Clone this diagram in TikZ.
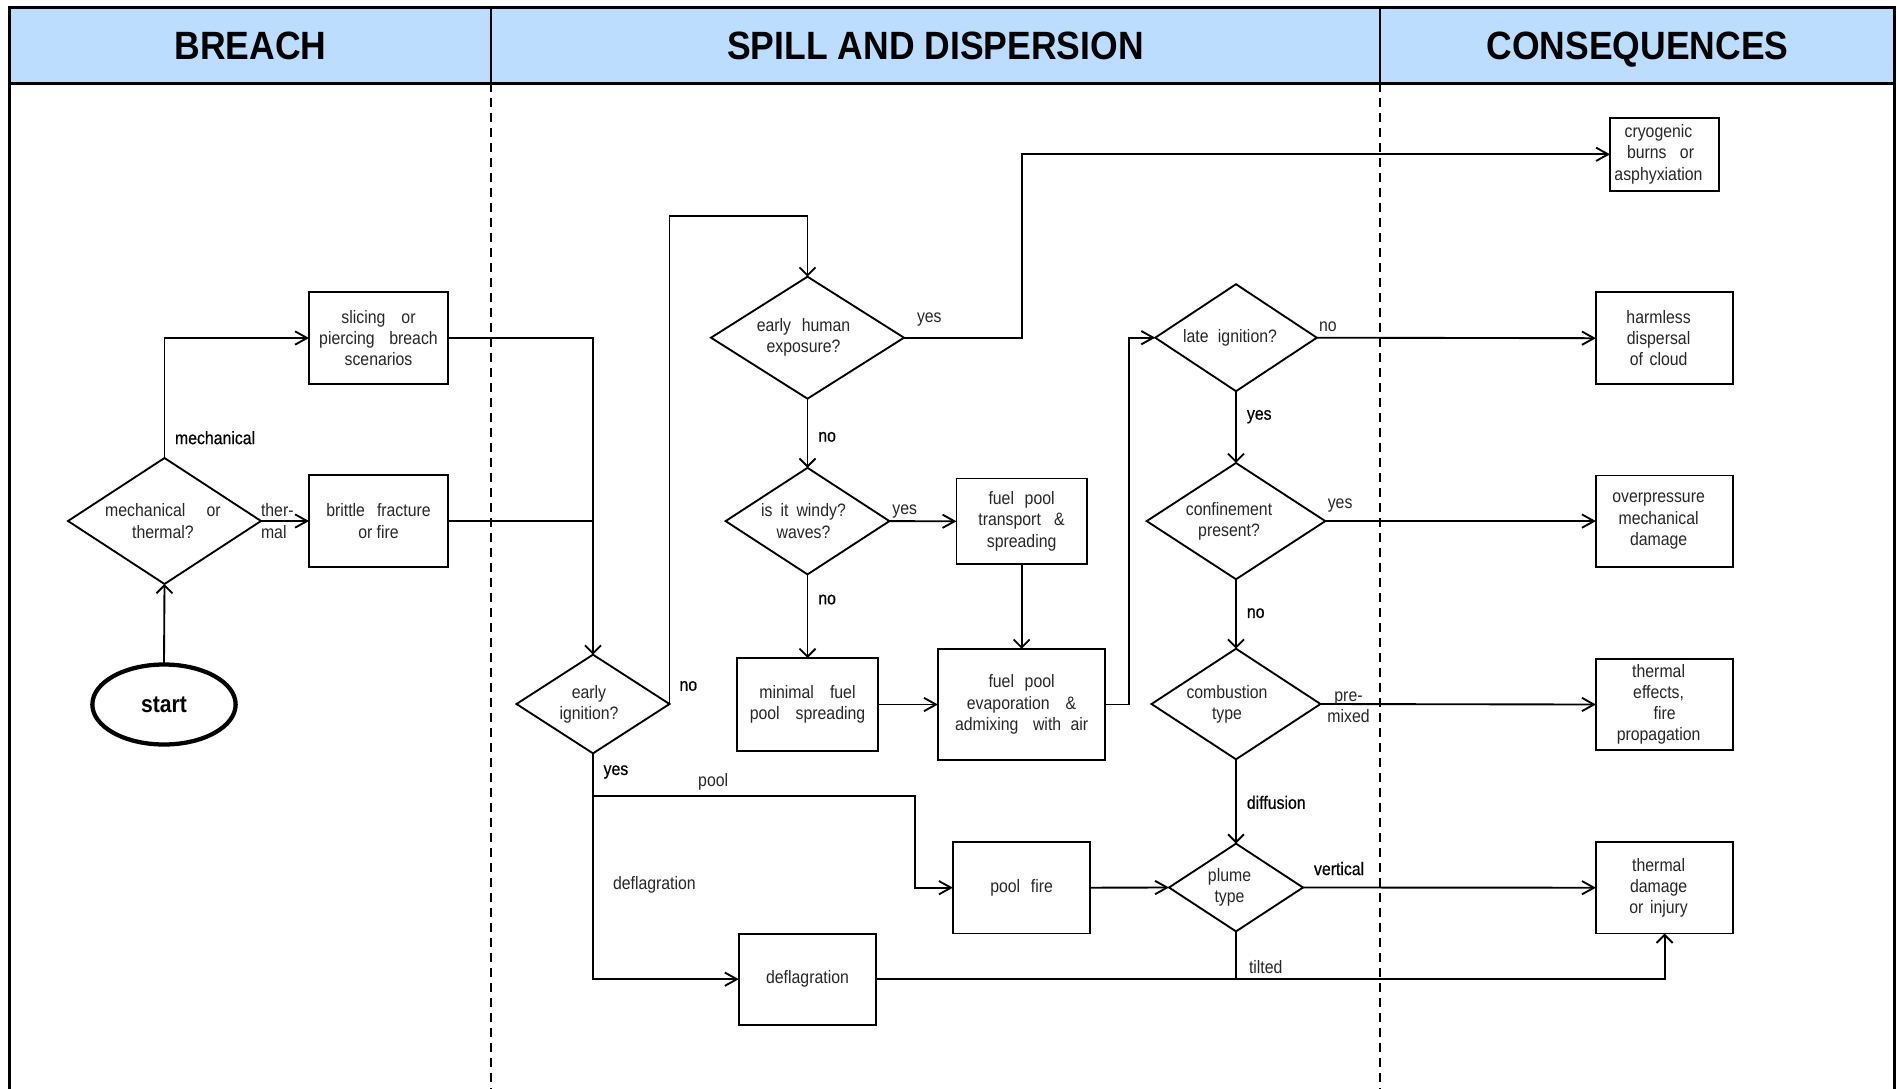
\documentclass[tikz,border=0pt]{standalone}
\usepackage{fontspec}
\setmainfont{Liberation Sans}[FakeStretch=0.88]
\newfontfamily\headfont{Liberation Sans}[FakeStretch=0.9]
\newfontfamily\strongfont{Liberation Sans}[FakeStretch=0.88, FakeBold=0.6]
\usetikzlibrary{shapes.geometric, arrows.meta}
\definecolor{hdr}{HTML}{BCDDFD}
\definecolor{ink}{HTML}{262626}
\newcommand{\wsp}[1]{\hspace{#1pt}}
\newcommand{\rk}{\kern9pt}
\begin{document}
\begin{tikzpicture}[x=0.75pt, y=-0.75pt,
  every node/.style={inner sep=0pt, outer sep=0pt},
  txt/.style={font=\fontsize{13.5}{15.9}\selectfont, align=center, text=ink},
  lbl/.style={font=\fontsize{13.5}{15.9}\selectfont, anchor=west, align=left, text=ink},
  slbl/.style={font=\strongfont\fontsize{13.5}{15.9}\selectfont, anchor=west, align=left, text=black},
  hdrtxt/.style={font=\headfont\bfseries\fontsize{29.6}{30}\selectfont, text depth=0pt},
  box/.style args={#1/#2}{draw, rectangle, line width=1.4pt, minimum width=#1*0.75pt, minimum height=#2*0.75pt, txt},
  dia/.style args={#1/#2}{draw, diamond, line width=1.4pt, minimum width=#1*0.75pt, minimum height=#2*0.75pt},
  conn/.style={line width=1.4pt},
  ah/.style={conn, -{Straight Barb[length=9pt, width=10pt]}},
  av/.style={conn, -{Straight Barb[length=6pt, width=12pt]}},
  frame/.style={line width=2pt},
  lane/.style={line width=1.5pt, dash pattern=on 6.75pt off 4.5pt},
]
\useasboundingbox (0,0) rectangle (1897,1088);
\clip (0,0) rectangle (1897,1088);

% header and frame
\fill[hdr] (9.8,7.3) rectangle (1894.8,83.3);
\draw[lane] (491,83.3) -- (491,1100);
\draw[lane] (1380,83.3) -- (1380,1100);
\draw[frame] (9.8,1100) -- (9.8,7.3) -- (1894.8,7.3) -- (1894.8,1100);
\draw[frame] (9.8,83.3) -- (1894.8,83.3);
\draw[frame] (491,7.3) -- (491,83.3);
\draw[frame] (1380,7.3) -- (1380,83.3);
\node[hdrtxt] (h1) at (250.4,46) {BREACH};
\node[hdrtxt] (h2) at (935.5,46) {SPILL AND DISPERSION};
\node[hdrtxt] (h3) at (1637.4,46) {CONSEQUENCES};

% nodes
\node[draw, ellipse, line width=3.2pt, minimum width=143.3*0.75pt, minimum height=80*0.75pt,
      font=\bfseries\fontsize{18}{20}\selectfont] (start) at (164,704.5) {start};
\node[dia=193/126] (mt) at (164.5,521) {};
\node[txt] (mtt) at (163,521) {mechanical\wsp{16}or\\thermal?};
\node[box=139/92.6] (slice) at (378.5,338) {slicing\wsp{12}or\\piercing\wsp{11}breach\\scenarios};
\node[box=139/91.7] (brit) at (378.5,521) {brittle\wsp{9}fracture\\or fire};
\node[dia=153/98.7] (ei) at (593,704) {};
\node[txt] (eit) at (589,704) {early\\ignition?};
\node[dia=193/122] (ehe) at (807.5,337.7) {};
\node[txt] (ehet) at (803.5,337.7) {early\wsp{8}human\\exposure?};
\node[dia=163.8/106.6] (windy) at (807.5,521.1) {};
\node[txt] (windyt) at (803.5,521.1) {is\wsp{6}it\wsp{6}windy?\\waves?};
\node[box=130.3/85.6] (trans) at (1021.6,521.3) {fuel\wsp{8}pool\\transport\wsp{10}\&\\spreading};
\node[box=140.7/93] (minf) at (807.5,704.5) {minimal\wsp{12}fuel\\pool\wsp{12}spreading};
\node[box=167.4/111.4] (evap) at (1021.6,704.5) {fuel\wsp{8}pool\\evaporation\wsp{12}\&\\admixing\wsp{11}with\wsp{7}air};
\node[box=137.5/91.7] (pfire) at (1021.6,887.7) {pool\wsp{8}fire};
\node[box=137.5/91.2] (defl) at (807.5,979.2) {deflagration};
\node[dia=161.6/107] (late) at (1236,337.7) {};
\node[txt] (latet) at (1230,337.7) {late\wsp{7}ignition?};
\node[dia=178.6/116.3] (conf) at (1236,521.1) {};
\node[txt] (conft) at (1229,521.1) {confinement\\present?};
\node[dia=169/110.6] (comb) at (1236,704) {};
\node[txt] (combt) at (1227,704) {combustion\\type};
\node[dia=134/87.8] (plume) at (1236,887.5) {};
\node[txt] (plumet) at (1229.5,887.5) {plume\\type};
\node[box=109/73.3] (cryo) at (1664.5,154.3) {cryogenic\rk\\\kern3pt burns\wsp{10}or\rk\\asphyxiation\rk};
\node[box=137.5/91.7] (harm) at (1664.6,338.2) {harmless\rk\\dispersal\rk\\of\wsp{5}cloud\rk};
\node[box=137.5/91.2] (over) at (1664.6,521.1) {overpressure\rk\\mechanical\rk\\damage\rk};
\node[box=137.5/91.3] (teff) at (1664.6,704.5) {thermal\rk\\effects,\rk\\fire\\propagation\rk};
\node[box=137.5/91.7] (tdam) at (1664.6,887.7) {thermal\rk\\damage\rk\\or\wsp{5}injury\rk};

% bend coordinates
\coordinate (top1) at (0,216);
\coordinate (k1) at (1022,155);
\coordinate (k2) at (1129,0);
\coordinate (pl) at (914.7,796.2);

% connectors
\draw[av] (start.north) -- (mt.south);
\draw[ah] (mt.north) |- (slice.west);
\draw[ah] (mt.east) -- (brit.west);
\draw[av] (slice.east) -| (ei.north);
\draw[conn] (brit.east) -- (ei.north |- brit.east);
\draw[av] (ei.east) -- (ei.east |- top1) -| (ehe.north);
\draw[ah] (ehe.east) -| (k1 |- cryo.west) -- (cryo.west);
\draw[av] (ehe.south) -- (windy.north);
\draw[ah] (windy.east) -- (trans.west);
\draw[av] (windy.south) -- (minf.north);
\draw[av] (trans.south) -- (evap.north);
\draw[ah] (minf.east) -- (evap.west);
\draw[ah] (evap.east) -- (evap.east -| k2) |- (late.west);
\draw[ah] (late.east) -- (harm.west);
\draw[av] (late.south) -- (conf.north);
\draw[ah] (conf.east) -- (over.west);
\draw[av] (conf.south) -- (comb.north);
\draw[ah] (comb.east) -- (teff.west);
\draw[av] (comb.south) -- (plume.north);
\draw[ah] (plume.east) -- (tdam.west);
\draw[ah] (pfire.east) -- (plume.west);
\draw[ah] (ei.south) |- (defl.west);
\draw[ah] (ei.south |- pl) -- (pl) |- (pfire.west);
\draw[av] (defl.east) -| (tdam.south);
\draw[conn] (plume.south) -- (plume.south |- defl.east);

% labels
\node[slbl] (l1) at (175,437.7) {mechanical};
\node[lbl] (l2) at (261,521) {ther-\\mal};
\node[slbl] (l3) at (679.5,686) {no};
\node[slbl] (l4) at (603.6,772) {yes};
\node[lbl] (l5) at (698.2,781.7) {pool};
\node[lbl] (l6) at (613,884.9) {deflagration};
\node[lbl] (l7) at (917,320) {yes};
\node[slbl] (l8) at (818.3,436.9) {no};
\node[lbl] (l9) at (892.4,511.9) {yes};
\node[slbl] (l10) at (818.3,599.6) {no};
\node[lbl] (l11) at (1319,326.7) {no};
\node[slbl] (l12) at (1246.9,416.7) {yes};
\node[lbl] (l13) at (1327.8,505.7) {yes};
\node[slbl] (l14) at (1246.9,613.2) {no};
\node[txt] (l15) at (1348.5,707) {pre-\\mixed};
\node[slbl] (l16) at (1246.9,802.4) {diffusion};
\node[slbl] (l17) at (1314,868.6) {vertical};
\node[lbl] (l18) at (1249,967.3) {tilted};
\end{tikzpicture}
\end{document}
